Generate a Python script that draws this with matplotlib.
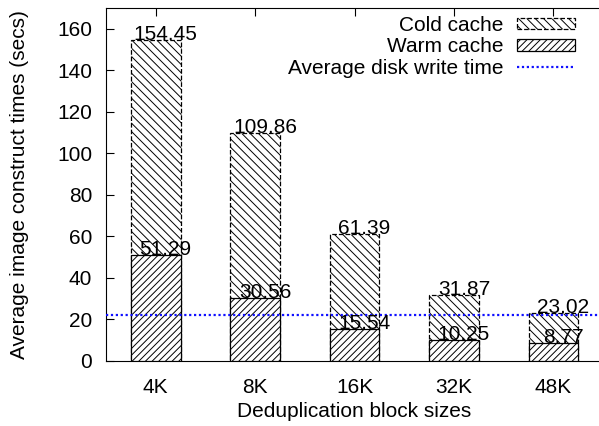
import matplotlib
matplotlib.use("Agg")
import matplotlib.pyplot as plt
import numpy as np

plt.rcParams['font.family'] = ['Liberation Sans', 'DejaVu Sans']
plt.rcParams['hatch.linewidth'] = 0.7

block_sizes = ['4K', '8K', '16K', '32K', '48K']
cold_cache = [154.45, 109.86, 61.39, 31.87, 23.02]
warm_cache = [51.29, 30.56, 15.54, 10.25, 8.77]
avg_disk_write = 22.0

fig = plt.figure(figsize=(5.99, 4.26), dpi=100)
ax = fig.add_axes([0.177, 0.1526, 0.83, 0.8284])

x = np.arange(len(block_sizes))
w = 0.5

cold = ax.bar(x, cold_cache, width=w, facecolor='white', edgecolor='black',
              hatch='\\\\\\\\', linestyle='--', linewidth=0.9, label='Cold cache', zorder=2)
warm = ax.bar(x, warm_cache, width=w, facecolor='white', edgecolor='black',
              hatch='/////', linewidth=0.9, label='Warm cache', zorder=3)
avg = ax.axhline(avg_disk_write, color='#1010ff', linestyle=(0, (1, 1.2)), linewidth=1.6,
                 label='Average disk write time', zorder=4)

# value labels on bar tops
for xi, c, wv in zip(x, cold_cache, warm_cache):
    ax.text(xi + 0.1, c, f'{c:.2f}', ha='center', va='baseline', fontsize=15, zorder=5)
    ax.text(xi + 0.1, wv, f'{wv:.2f}', ha='center', va='baseline', fontsize=15, zorder=5)

ax.set_xlim(-0.5, 4.5)
ax.set_ylim(0, 170)
ax.set_xticks(x)
ax.set_xticklabels(block_sizes)
ax.set_yticks(np.arange(0, 161, 20))
ax.tick_params(axis='both', labelsize=15, direction='in', length=6, width=0.8,
               top=True, right=False)
ax.tick_params(axis='x', pad=12)
ax.tick_params(axis='y', pad=10)
ax.spines['right'].set_visible(False)

ax.set_xlabel('Deduplication block sizes', fontsize=15, labelpad=4)
ax.set_ylabel('Average image construct times (secs)', fontsize=15, labelpad=20)

ax.legend([cold, warm, avg], ['Cold cache', 'Warm cache', 'Average disk write time'],
          loc='upper right', bbox_to_anchor=(0.944, 0.978), frameon=False, fontsize=15,
          markerfirst=False, handlelength=2.8, handleheight=0.45,
          labelspacing=0.12, borderaxespad=0, borderpad=0, handletextpad=0.65)

fig.savefig('out.png', dpi=100)
